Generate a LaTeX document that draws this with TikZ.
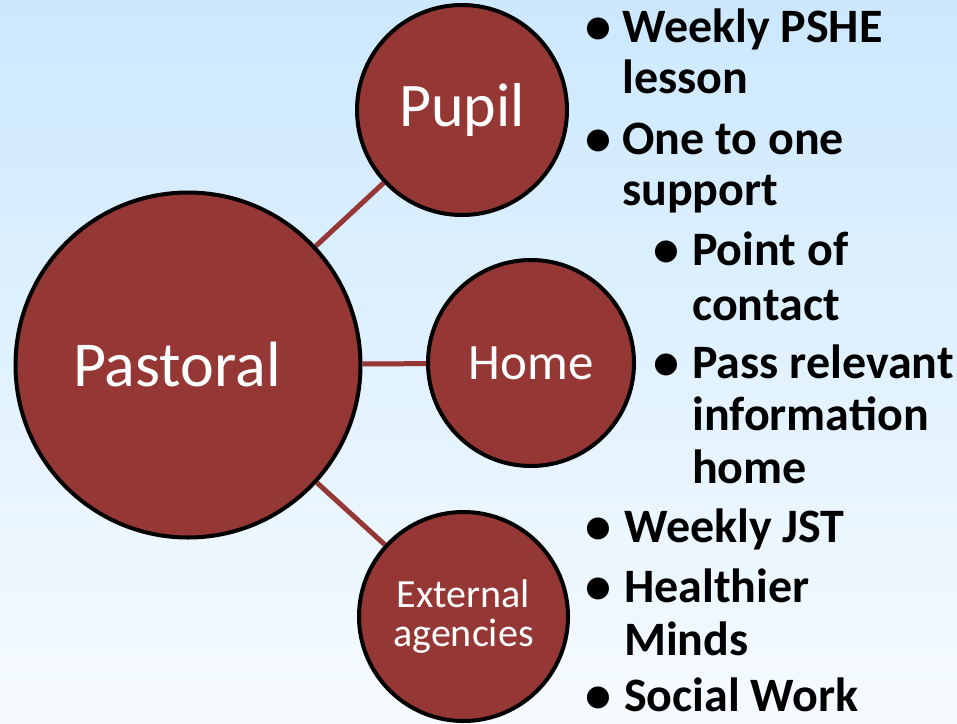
\documentclass[tikz,border=0pt]{standalone}
\usepackage{fontspec}
\setmainfont{Carlito}
\definecolor{bgtop}{HTML}{CCE8FE}
\definecolor{bgbot}{HTML}{F6FBFF}
\definecolor{circred}{HTML}{953735}
\begin{document}
\begin{tikzpicture}[x=1pt,y=-1pt,
  bubble/.style={circle,draw=black,line width=4pt,fill=circred,text=white,inner sep=0pt},
  link/.style={draw=circred,line width=5pt},
  item/.style={anchor=base west,inner sep=0pt,font=\fontsize{48}{52}\selectfont\bfseries},
  dot/.style={anchor=base,inner sep=0pt,font=\fontsize{52}{54}\selectfont\bfseries}]
\useasboundingbox (0,0) rectangle (957,723);
\shade[top color=bgtop,bottom color=bgbot] (0,0) rectangle (957,723);
\node[bubble,minimum size=345pt,font=\fontsize{64}{70}\selectfont] (pastoral) at (188,365) {\hspace*{-22pt}Pastoral};
\node[bubble,minimum size=210pt,font=\fontsize{62}{68}\selectfont] (pupil) at (462,110) {Pupil};
\node[bubble,minimum size=206pt,font=\fontsize{51}{56}\selectfont] (home) at (531,363) {Home};
\node[bubble,minimum size=209pt,font=\fontsize{40}{39}\selectfont,align=center] (ext) at (463.5,616.5) {External\\agencies};
\draw[link] (pastoral) -- (pupil);
\draw[link] (pastoral) -- (home);
\draw[link] (pastoral) -- (ext);
% Pupil items
\node[dot] (b1) at (598,43) {•};
\node[item] (t1a) at (622,42) {Weekly PSHE};
\node[item] (t1b) at (622,93) {lesson};
\node[dot] (b2) at (598,155) {•};
\node[item] (t2a) at (622,154) {One to one};
\node[item] (t2b) at (622,205) {support};
% Home items
\node[dot] (b3) at (666,266) {•};
\node[item] (t3a) at (692,265) {Point of};
\node[item] (t3b) at (692,320) {contact};
\node[dot] (b4) at (666,379) {•};
\node[item] (t4a) at (692,378) {Pass relevant};
\node[item] (t4b) at (692,430) {information};
\node[item] (t4c) at (692,483) {home};
% External items
\node[dot] (b5) at (598,543) {•};
\node[item] (t5a) at (624,542) {Weekly JST};
\node[dot] (b6) at (598,603) {•};
\node[item] (t6a) at (624,602) {Healthier};
\node[item] (t6b) at (624,655) {Minds};
\node[dot] (b7) at (598,712) {•};
\node[item] (t7a) at (624,711) {Social Work};
\end{tikzpicture}
\end{document}
